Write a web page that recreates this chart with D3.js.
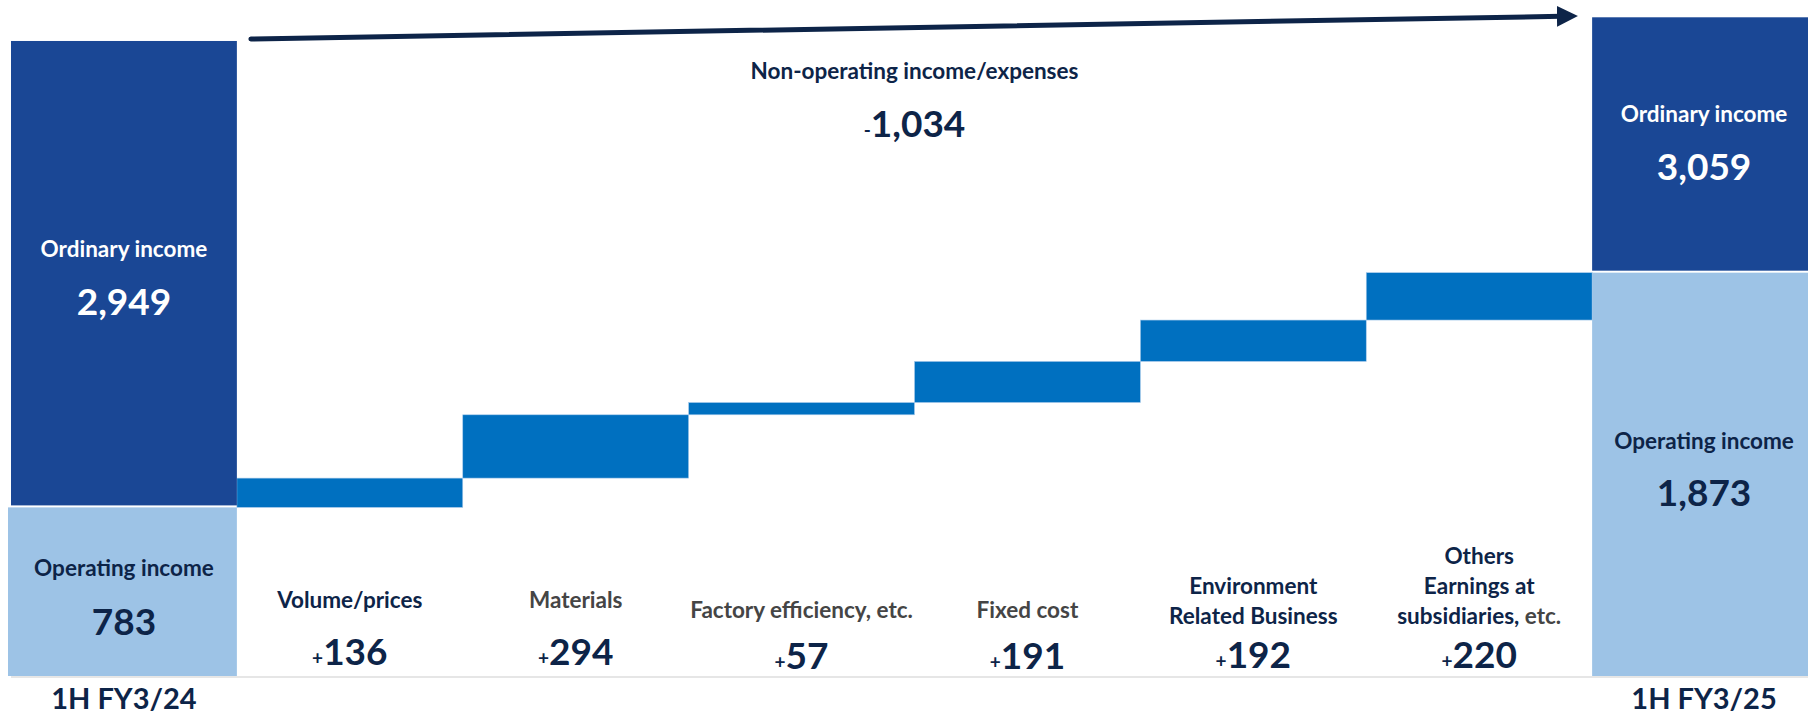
<!DOCTYPE html>
<html>
<head>
<meta charset="utf-8">
<script src="https://cdn.jsdelivr.net/npm/d3@7"></script>
<style>
  html, body { margin: 0; padding: 0; background: #fff; overflow: hidden; }
  svg text { font-family: Lato, "Open Sans", sans-serif; font-weight: 700; }
</style>
</head>
<body>
<div id="chart"></div>
<script>
const width = 1808;
const height = 717;

// --- data ---
const categories = [
  "1H FY3/24",
  "Volume/prices",
  "Materials",
  "Factory efficiency, etc.",
  "Fixed cost",
  "Environment Related Business",
  "Others Earnings at subsidiaries, etc.",
  "1H FY3/25"
];
const stepLabels = [
  ["Volume/prices"],
  ["Materials"],
  ["Factory efficiency, etc."],
  ["Fixed cost"],
  ["Environment", "Related Business"],
  ["Others", "Earnings at", "subsidiaries, etc."]
];
const stepValues = [136, 294, 57, 191, 192, 220];
const startOperating = 783;
const startOrdinary = 2949;
const endOperating = 1873;
const endOrdinary = 3059;
const nonOperating = -1034;

// colours
const navy = "#0d2448";
const grey = "#454545";
const ordinaryColor = "#1a4795";
const operatingColor = "#9dc3e6";
const stepColor = "#0070c0";
const mutedSteps = ["Materials", "Factory efficiency, etc.", "Fixed cost"];

const svg = d3
  .select("#chart")
  .append("svg")
  .attr("width", width)
  .attr("height", height)
  .attr("viewBox", [0, 0, width, height]);

// last column runs past the right edge, as in the slide
const x = d3.scaleBand().domain(categories).range([11, 1818]).padding(0);
const y = d3.scaleLinear().domain([0, 3065]).range([676, 16]);
const bw = x.bandwidth();
const fmt = d3.format(",");

// baseline
svg
  .append("line")
  .attr("x1", x(categories[0]))
  .attr("x2", width)
  .attr("y1", y(0) + 1)
  .attr("y2", y(0) + 1)
  .attr("stroke", "#e6e6e6")
  .attr("stroke-width", 2);

// --- cumulative steps ---
let running = startOperating;
const steps = stepValues.map((v, i) => {
  const s = { cat: categories[i + 1], from: running, to: running + v, value: v, lines: stepLabels[i] };
  running += v;
  return s;
});

svg
  .append("g")
  .selectAll("rect")
  .data(steps)
  .enter()
  .append("rect")
  .attr("x", (d) => x(d.cat))
  .attr("width", bw)
  .attr("y", (d) => y(d.to))
  .attr("height", (d) => y(d.from) - y(d.to))
  .attr("fill", stepColor)
  .attr("stroke", "#a9cbeb")
  .attr("stroke-width", 0.6);

// --- total columns (operating + ordinary stacked) ---
const totals = [
  { cat: categories[0], op: startOperating, ord: startOrdinary },
  { cat: categories[7], op: endOperating, ord: endOrdinary }
];

const totalG = svg.append("g");
totalG
  .selectAll("rect.ord")
  .data(totals)
  .enter()
  .append("rect")
  .attr("class", "ord")
  .attr("x", (d) => x(d.cat))
  .attr("width", bw)
  .attr("y", (d) => y(d.ord))
  .attr("height", (d) => y(d.op) - y(d.ord) - 2)
  .attr("fill", ordinaryColor);

totalG
  .selectAll("rect.op")
  .data(totals)
  .enter()
  .append("rect")
  .attr("class", "op")
  .attr("x", (d, i) => x(d.cat) - (i === 0 ? 3 : 0))
  .attr("width", (d, i) => bw + (i === 0 ? 3 : 0))
  .attr("y", (d) => y(d.op))
  .attr("height", (d) => y(0) - y(d.op))
  .attr("fill", operatingColor);

// helper for centered text with a small sign
function bigNumber(g, cx, cy, value, color, sign) {
  const t = g
    .append("text")
    .attr("x", cx)
    .attr("y", cy)
    .attr("text-anchor", "middle")
    .attr("fill", color);
  if (sign) t.append("tspan").attr("font-size", 19).text(sign);
  t.append("tspan").attr("font-size", 37).text(fmt(Math.abs(value)));
}

function label(g, cx, cy, txt, color) {
  g.append("text")
    .attr("x", cx)
    .attr("y", cy)
    .attr("text-anchor", "middle")
    .attr("font-size", 22.5)
    .attr("fill", color)
    .text(txt);
}

const textG = svg.append("g");

// left column
const lx = x(categories[0]) + bw / 2;
label(textG, lx, 257, "Ordinary income", "#fff");
bigNumber(textG, lx, 315, startOrdinary, "#fff");
label(textG, lx, 576, "Operating income", navy);
bigNumber(textG, lx, 635, startOperating, navy);

// right column (visible part of the cut column)
const rx = (x(categories[7]) + width) / 2 + 4;
label(textG, rx, 122, "Ordinary income", "#fff");
bigNumber(textG, rx, 180, endOrdinary, "#fff");
label(textG, rx, 449, "Operating income", navy);
bigNumber(textG, rx, 506, endOperating, navy);

// year labels
textG
  .selectAll("text.year")
  .data([categories[0], categories[7]])
  .enter()
  .append("text")
  .attr("class", "year")
  .attr("x", (d, i) => (i === 0 ? lx : rx))
  .attr("y", 709)
  .attr("text-anchor", "middle")
  .attr("font-size", 29)
  .attr("fill", navy)
  .text((d) => d);

// step labels
const labelLift = [16, 16, 6, 6, 0, 0];
const valueLift = [4, 4, 0, 0, 1, 1];
steps.forEach((s, i) => {
  const cx = x(s.cat) + bw / 2;
  const muted = mutedSteps.includes(s.cat);
  const n = s.lines.length;
  s.lines.forEach((line, j) => {
    const ly = 624 - labelLift[i] - (n - 1 - j) * 30;
    const t = textG
      .append("text")
      .attr("x", cx)
      .attr("y", ly)
      .attr("text-anchor", "middle")
      .attr("font-size", 22.5)
      .attr("fill", muted ? grey : navy);
    if (!muted && line.endsWith(" etc.")) {
      t.append("tspan").text(line.slice(0, -4));
      t.append("tspan").attr("fill", grey).text("etc.");
    } else {
      t.text(line);
    }
  });
  bigNumber(textG, cx, 669 - valueLift[i], s.value, navy, "+");
});

// non-operating annotation
const nx = x("Fixed cost");
label(textG, nx, 79, "Non-operating income/expenses", navy);
bigNumber(textG, nx, 137, nonOperating, navy, "-");

// arrow from ordinary income to ordinary income
svg
  .append("defs")
  .append("marker")
  .attr("id", "head")
  .attr("viewBox", "0 0 10 10")
  .attr("refX", 2)
  .attr("refY", 5)
  .attr("markerWidth", 4.2)
  .attr("markerHeight", 4.2)
  .attr("markerUnits", "strokeWidth")
  .attr("orient", "auto")
  .append("path")
  .attr("d", "M0,0L10,5L0,10Z")
  .attr("fill", navy);

svg
  .append("line")
  .attr("x1", x(categories[1]) + 14)
  .attr("y1", y(startOrdinary) - 2)
  .attr("x2", x(categories[7]) - 31)
  .attr("y2", y(endOrdinary) - 1)
  .attr("stroke", navy)
  .attr("stroke-width", 5)
  .attr("stroke-linecap", "round")
  .attr("marker-end", "url(#head)");
</script>
</body>
</html>
